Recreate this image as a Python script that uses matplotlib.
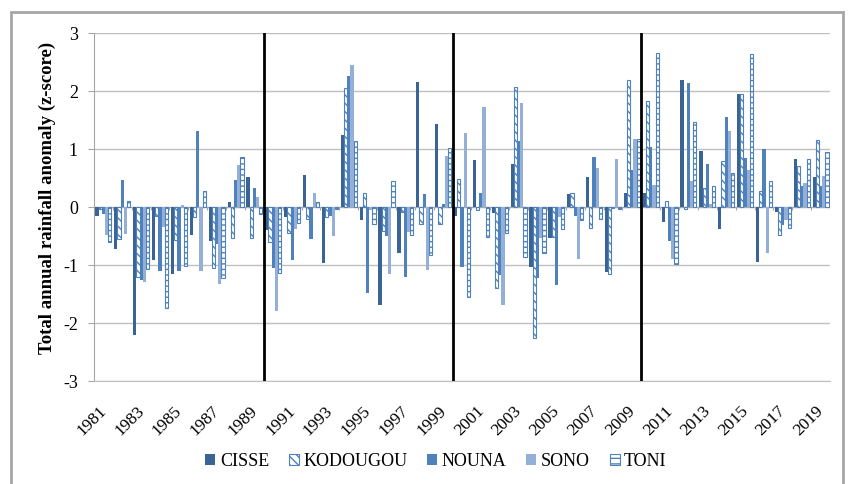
import matplotlib.pyplot as plt
import matplotlib.transforms as mtransforms
import numpy as np
from matplotlib.patches import Rectangle

plt.rcParams['font.family'] = ['Liberation Serif', 'DejaVu Serif']
plt.rcParams['hatch.linewidth'] = 1.0

# Data (z-scores)
years = list(range(1981, 2020))
cisse = [-0.15, -0.72, -2.21, -0.92, -1.16, -0.48, -0.59, 0.08, 0.52, -0.40,
         -0.18, 0.56, -0.97, 1.25, -0.22, -1.69, -0.80, 2.16, 1.43, -0.15,
         0.81, -0.11, 0.74, -1.03, -0.54, 0.22, 0.52, -1.12, 0.24, 0.24,
         -0.25, 2.19, 0.97, -0.38, 1.94, -0.95, -0.09, 0.82, 0.52]
kodougou = [-0.03, -0.55, -1.20, -0.16, -0.57, -0.17, -1.06, -0.53, -0.53, -0.61,
            -0.45, -0.21, -0.18, 2.05, 0.25, -0.41, -0.08, -0.30, -0.29, 0.48,
            -0.05, -1.40, 2.07, -2.26, -0.51, 0.25, -0.37, -1.16, 2.19, 1.82,
            0.11, -0.04, 0.32, 0.79, 1.94, 0.28, -0.49, 0.70, 1.16]
nouna = [-0.12, 0.47, -1.26, -1.10, -1.11, 1.31, -0.64, 0.47, 0.32, -1.05,
         -0.91, -0.56, -0.15, 2.26, -1.49, -0.50, -1.20, 0.22, 0.05, -1.03,
         0.25, -1.17, 1.14, -1.23, -1.34, -0.15, 0.86, -0.03, 0.64, 1.04,
         -0.59, 2.14, 0.75, 1.55, 0.84, 1.00, -0.31, 0.37, 0.36]
sono = [-0.48, -0.47, -1.30, -0.34, 0.03, -1.11, -1.32, 0.72, 0.17, -1.79,
        -0.38, 0.25, -0.50, 2.44, -0.05, -1.16, -0.43, -1.09, 0.88, 1.27,
        1.73, -1.69, 1.79, -0.54, -0.17, -0.89, 0.68, 0.82, 1.17, 0.38,
        -0.89, 0.44, 0.05, 1.31, 0.64, -0.80, -0.22, 0.41, 0.53]
toni = [-0.61, 0.11, -1.07, -1.74, -1.02, 0.28, -1.22, 0.87, -0.12, -1.14,
        -0.28, 0.09, -0.03, 1.14, -0.29, 0.45, -0.48, -0.82, 1.02, -1.55,
        -0.52, -0.44, -0.87, -0.80, -0.38, -0.22, -0.20, -0.03, 1.18, 2.66,
        -0.99, 1.47, 0.36, 0.58, 2.63, 0.45, -0.37, 0.82, 0.95]
decade_breaks = [1990, 2000, 2010]

fig = plt.figure(figsize=(8.53, 4.84), dpi=100)
ax = fig.add_axes([94/853, 1-381/484, (830-94)/853, (381-33)/484])

x = np.arange(len(years))
w = 0.17
blue = '#4f81bd'
ax.bar(x - 2*w, cisse, w, color='#3b6496', label='CISSE', zorder=3)
ax.bar(x - w, kodougou, w, color='white', edgecolor=blue, hatch='\\\\\\\\', linewidth=0.8, label='KODOUGOU', zorder=3)
ax.bar(x, nouna, w, color=blue, label='NOUNA', zorder=3)
ax.bar(x + w, sono, w, color='#95b0d8', label='SONO', zorder=3)
ax.bar(x + 2*w, toni, w, color='white', edgecolor=blue, hatch='---', linewidth=0.8, label='TONI', zorder=3)

# zero axis with category ticks
ax.axhline(0, color='#a6a6a6', lw=0.8, zorder=2)
ax.vlines(np.arange(len(years) + 1) - 0.5, -0.06, 0, color='#a6a6a6', lw=0.8, zorder=2)

# decade separators
for b in decade_breaks:
    ax.axvline(years.index(b) - 0.5, color='black', lw=2, zorder=4)

ax.set_xlim(-0.5, len(years) - 0.5)
ax.set_ylim(-3, 3)
ax.set_yticks([-3, -2, -1, 0, 1, 2, 3])
ax.set_yticklabels(['-3', '-2', '-1', '0', '1', '2', '3'], fontsize=13)
ax.yaxis.grid(True, color='#c0c0c0', lw=1, zorder=0)
ax.tick_params(axis='y', length=4.5, color='#a6a6a6', pad=7)

ax.set_xticks(x[::2])
ax.set_xticklabels([str(y) for y in years[::2]], rotation=45, ha='right',
                   rotation_mode='anchor', fontsize=12.5)
ax.tick_params(axis='x', length=0, pad=16)
shift = mtransforms.ScaledTranslation(-5/100, 0, fig.dpi_scale_trans)
for lab in ax.get_xticklabels():
    lab.set_transform(lab.get_transform() + shift)

for s in ['top', 'right']:
    ax.spines[s].set_visible(False)
ax.spines['left'].set_color('#a6a6a6')
ax.spines['bottom'].set_color('#c0c0c0')

ax.set_ylabel('Total annual rainfall anomaly (z-score)', fontsize=13.5, fontweight='bold')
ax.yaxis.set_label_coords(-0.052, 0.526)

fig.legend(loc='center', bbox_to_anchor=(436/853, 1-461/484), ncol=5, frameon=False,
           fontsize=13, handlelength=0.55, handleheight=0.55, handletextpad=0.25, columnspacing=1.1)

fig.add_artist(Rectangle((11/853, -0.05), (843-11)/853, 1.05 - 12/484, transform=fig.transFigure,
                         fill=False, edgecolor='#a6a6a6', lw=2))

plt.savefig('out.png', dpi=100)
